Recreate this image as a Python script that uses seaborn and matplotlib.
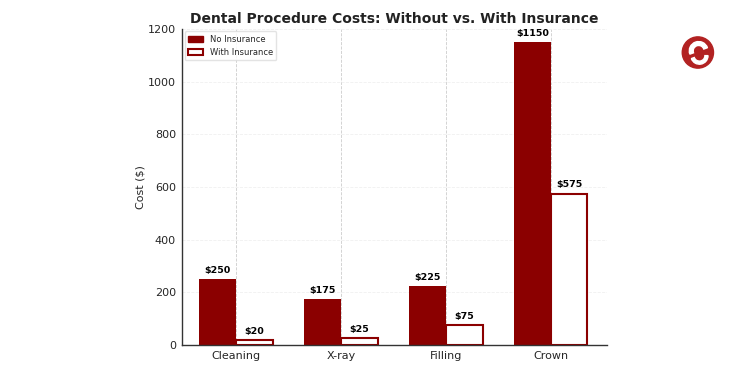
import matplotlib
matplotlib.use("Agg")
import matplotlib.pyplot as plt
import seaborn as sns
import pandas as pd
from matplotlib.patches import Patch, Circle, Wedge

procedures = ["Cleaning", "X-ray", "Filling", "Crown"]
no_insurance = [250, 175, 225, 1150]
with_insurance = [20, 25, 75, 575]
series = ["No Insurance", "With Insurance"]

df = pd.DataFrame({
    "Procedure": procedures * 2,
    "Cost": no_insurance + with_insurance,
    "Type": [series[0]] * 4 + [series[1]] * 4,
})

sns.set_style("white")
plt.rcParams["font.family"] = ["DejaVu Sans"]

fig = plt.figure(figsize=(7.5, 3.75), dpi=100)
ax = fig.add_axes([0.243, 0.08, 0.566, 0.843])

dark = "#8b0000"
sns.barplot(data=df, x="Procedure", y="Cost", hue="Type", hue_order=series,
            palette=[dark, "white"], width=0.7, gap=0, ax=ax, legend=False)

n = len(procedures)
for i, p in enumerate(ax.patches[:2 * n]):
    if i < n:
        p.set_facecolor(dark)
        p.set_edgecolor(dark)
        p.set_linewidth(0)
    else:
        p.set_facecolor("white")
        p.set_edgecolor(dark)
        p.set_linewidth(1.5)

for cont in ax.containers:
    ax.bar_label(cont, labels=[f"${int(v)}" for v in cont.datavalues],
                 padding=3, fontsize=6.8, fontweight="bold", color="black")

ax.set_xlim(-0.514, 3.534)
ax.set_ylim(0, 1200)
ax.set_yticks([0, 200, 400, 600, 800, 1000, 1200])
ax.set_xlabel("")
ax.set_ylabel("Cost ($)", fontsize=8, labelpad=2)
ax.tick_params(axis="both", labelsize=8, length=2.5, pad=2)
ax.set_title("Dental Procedure Costs: Without vs. With Insurance",
             fontsize=10, fontweight="bold", color="#222222", pad=4)

ax.xaxis.grid(True, linestyle="--", linewidth=0.6, color="#cccccc")
ax.yaxis.grid(True, linestyle="--", linewidth=0.6, color="#f0f0f0")
ax.set_axisbelow(True)
sns.despine(ax=ax)
for s in ["left", "bottom"]:
    ax.spines[s].set_color("#333333")
    ax.spines[s].set_linewidth(1)

handles = [Patch(facecolor=dark, edgecolor=dark, label=series[0]),
           Patch(facecolor="white", edgecolor=dark, linewidth=1.5, label=series[1])]
leg = ax.legend(handles=handles, loc="upper left", fontsize=6, frameon=True,
                handlelength=1.8, borderpad=0.4, labelspacing=0.5,
                borderaxespad=0.3, handletextpad=0.8)
leg.get_frame().set_edgecolor("#dddddd")

# small logo mark at right
lax = fig.add_axes([0.898, 0.81, 0.065, 0.1])
lax.set_xlim(-1.2, 1.2); lax.set_ylim(-1.2, 1.2); lax.set_aspect("equal"); lax.axis("off")
lax.add_patch(Circle((0, 0), 1.0, color="#b22222"))
lax.add_patch(Wedge((0.05, 0.1), 0.6, 20, 200, width=0.25, color="white"))
lax.add_patch(Wedge((0.1, -0.2), 0.55, 200, 360, width=0.2, color="white"))

fig.savefig("out.png", dpi=100)
